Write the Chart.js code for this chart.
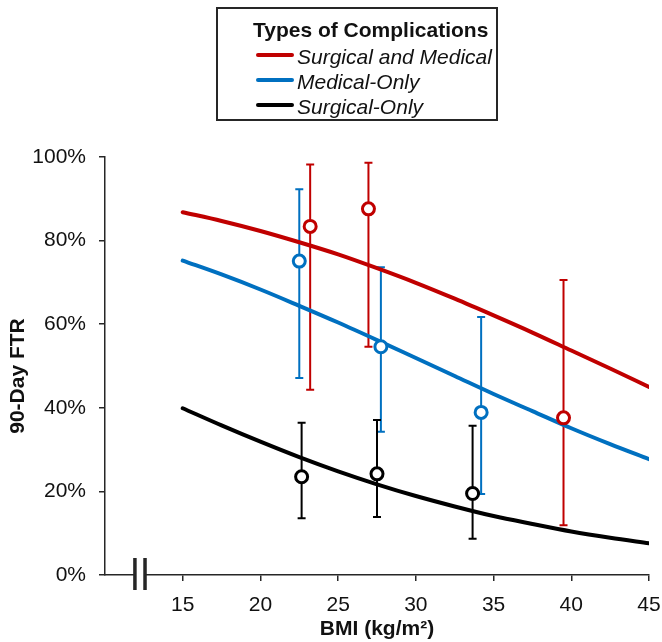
<!DOCTYPE html>
<html>
<head>
<meta charset="utf-8">
<script src="https://cdn.jsdelivr.net/npm/chart.js@4.4.1/dist/chart.umd.min.js"></script>
<style>
html,body{margin:0;padding:0;background:#fff;}
#wrap{width:662px;height:642px;position:relative;}
</style>
</head>
<body>
<div id="wrap"><canvas id="c" width="662" height="642"></canvas></div>
<script>
// ---- data ----
const bmiGrid = [15, 17.5, 20, 22.5, 25, 27.5, 30, 32.5, 35, 37.5, 40, 42.5, 45];
const curveSurgMed  = [86.8, 84.7, 82.3, 79.6, 76.7, 73.4, 69.9, 66.1, 62.1, 58.0, 53.7, 49.4, 45.0];
const curveMedOnly  = [75.2, 71.9, 68.3, 64.4, 60.4, 56.2, 51.9, 47.6, 43.3, 39.2, 35.1, 31.3, 27.7];
const curveSurgOnly = [39.9, 35.8, 31.9, 28.2, 24.8, 21.7, 18.9, 16.4, 14.1, 12.2, 10.4, 8.9, 7.6];

const surgMedBmi  = [23.2, 26.95, 39.5];
const surgMedFtr  = [83.4, 87.6, 37.6];
const surgMedLow  = [44.3, 54.6, 11.9];
const surgMedHigh = [98.2, 98.6, 70.6];

const medOnlyBmi  = [22.5, 27.75, 34.2];
const medOnlyFtr  = [75.1, 54.6, 38.9];
const medOnlyLow  = [47.1, 34.3, 19.4];
const medOnlyHigh = [92.3, 73.6, 61.7];

const surgOnlyBmi  = [22.65, 27.5, 33.65];
const surgOnlyFtr  = [23.5, 24.2, 19.5];
const surgOnlyLow  = [13.6, 13.9, 8.7];
const surgOnlyHigh = [36.4, 37.1, 35.7];

const xTicks = [15, 20, 25, 30, 35, 40, 45];
const yTicks = [0, 20, 40, 60, 80, 100];
const xRange = [10, 45];
const axisBreakAt = 12.25;

const seriesNames = ['Surgical and Medical', 'Medical-Only', 'Surgical-Only'];
const legendTitle = 'Types of Complications';
const xTitle = 'BMI (kg/m\u00B2)';
const yTitle = '90-Day FTR';

// ---- styles ----
const RED = '#C00000', BLUE = '#0070C0', BLACK = '#000000';
const AXIS = '#262626', TEXT = '#111111';
const FAMILY = "'Liberation Sans', Arial, sans-serif";
Chart.defaults.font.family = FAMILY;

const pts = (xs, ys) => xs.map((x, i) => ({x: x, y: ys[i]}));

function curveDs(label, vals, color) {
  return {type: 'line', label: label, data: pts(bmiGrid, vals), borderColor: color, borderWidth: 4,
    pointRadius: 0, fill: false, cubicInterpolationMode: 'monotone', borderCapStyle: 'round', order: 2};
}
function pointDs(label, xs, ys, lo, hi, color) {
  return {type: 'scatter', label: label, data: pts(xs, ys), errLow: lo, errHigh: hi,
    borderColor: color, backgroundColor: '#ffffff', pointBackgroundColor: '#ffffff',
    pointBorderColor: color, pointRadius: 6, pointBorderWidth: 3, order: 0, isPoints: true};
}

const errorBars = {
  id: 'errorBars',
  beforeDatasetsDraw(chart) {
    const {ctx, scales: {x, y}} = chart;
    ctx.save();
    chart.data.datasets.forEach(ds => {
      if (!ds.isPoints) return;
      ctx.strokeStyle = ds.borderColor;
      ctx.lineWidth = 2;
      ds.data.forEach((p, i) => {
        const px = x.getPixelForValue(p.x);
        const pl = y.getPixelForValue(ds.errLow[i]);
        const ph = y.getPixelForValue(ds.errHigh[i]);
        ctx.beginPath();
        ctx.moveTo(px, pl); ctx.lineTo(px, ph);
        ctx.moveTo(px - 4, pl); ctx.lineTo(px + 4, pl);
        ctx.moveTo(px - 4, ph); ctx.lineTo(px + 4, ph);
        ctx.stroke();
      });
    });
    ctx.restore();
  }
};

const axisBreak = {
  id: 'axisBreak',
  afterDraw(chart) {
    const {ctx, scales: {x}} = chart;
    const cx = x.getPixelForValue(axisBreakAt);
    const yb = chart.chartArea.bottom;
    ctx.save();
    ctx.fillStyle = '#ffffff';
    ctx.fillRect(cx - 4, yb - 3, 8, 6);
    ctx.fillStyle = AXIS;
    ctx.fillRect(cx - 6.8, yb - 17, 3.5, 32);
    ctx.fillRect(cx + 3.3, yb - 17, 3.5, 32);
    ctx.restore();
  }
};

const yAxisTitle = {
  id: 'yAxisTitle',
  afterDraw(chart) {
    const {ctx, chartArea} = chart;
    ctx.save();
    ctx.translate(18.5, (chartArea.top + chartArea.bottom) / 2 + 10);
    ctx.rotate(-Math.PI / 2);
    ctx.fillStyle = TEXT;
    ctx.font = 'bold 21px ' + FAMILY;
    ctx.textAlign = 'center';
    ctx.textBaseline = 'middle';
    ctx.fillText(yTitle, 0, 0);
    ctx.restore();
  }
};

const boxLegend = {
  id: 'boxLegend',
  afterDraw(chart) {
    const ctx = chart.ctx;
    ctx.save();
    ctx.strokeStyle = AXIS;
    ctx.lineWidth = 2;
    ctx.strokeRect(217, 8, 280, 112);
    ctx.fillStyle = TEXT;
    ctx.textBaseline = 'alphabetic';
    ctx.textAlign = 'left';
    ctx.font = 'bold 21px ' + FAMILY;
    ctx.fillText(legendTitle, 253, 36.5);
    const cols = [RED, BLUE, BLACK];
    ctx.font = 'italic 21px ' + FAMILY;
    seriesNames.forEach((n, i) => {
      const ly = 55 + i * 25;
      ctx.strokeStyle = cols[i];
      ctx.lineWidth = 4;
      ctx.lineCap = 'round';
      ctx.beginPath();
      ctx.moveTo(258, ly); ctx.lineTo(292, ly);
      ctx.stroke();
      ctx.fillStyle = TEXT;
      ctx.fillText(n, 297, ly + 8.5);
    });
    ctx.restore();
  }
};

new Chart(document.getElementById('c'), {
  type: 'scatter',
  data: {
    datasets: [
      pointDs(seriesNames[0], surgMedBmi, surgMedFtr, surgMedLow, surgMedHigh, RED),
      pointDs(seriesNames[1], medOnlyBmi, medOnlyFtr, medOnlyLow, medOnlyHigh, BLUE),
      pointDs(seriesNames[2], surgOnlyBmi, surgOnlyFtr, surgOnlyLow, surgOnlyHigh, BLACK),
      curveDs(seriesNames[0], curveSurgMed, RED),
      curveDs(seriesNames[1], curveMedOnly, BLUE),
      curveDs(seriesNames[2], curveSurgOnly, BLACK)
    ]
  },
  options: {
    responsive: false,
    animation: false,
    events: [],
    layout: {padding: {left: 0, right: 0, top: 157, bottom: 0}},
    plugins: {legend: {display: false}, tooltip: {enabled: false}},
    scales: {
      x: {
        type: 'linear', min: xRange[0], max: xRange[1],
        afterBuildTicks: s => { s.ticks = xTicks.map(v => ({value: v})); },
        afterFit: s => { s.height = 67; s.paddingRight = 13; s.paddingLeft = 0; },
        ticks: {color: TEXT, font: {size: 21}, padding: 12},
        grid: {drawOnChartArea: false, drawTicks: true, tickLength: 6, color: AXIS, lineWidth: 1.5},
        border: {display: true, color: AXIS, width: 1.5},
        title: {display: true, text: xTitle, color: TEXT, font: {size: 21, weight: 'bold'}, padding: {top: 0, bottom: 0}}
      },
      y: {
        type: 'linear', min: 0, max: 100,
        afterBuildTicks: s => { s.ticks = yTicks.map(v => ({value: v})); },
        afterFit: s => { s.width = 105; },
        ticks: {color: TEXT, font: {size: 21}, padding: 13, callback: v => v + '%'},
        grid: {drawOnChartArea: false, drawTicks: true, tickLength: 6, color: AXIS, lineWidth: 1.5},
        border: {display: true, color: AXIS, width: 1.5},
        title: {display: false}
      }
    }
  },
  plugins: [errorBars, axisBreak, yAxisTitle, boxLegend]
});
</script>
</body>
</html>
